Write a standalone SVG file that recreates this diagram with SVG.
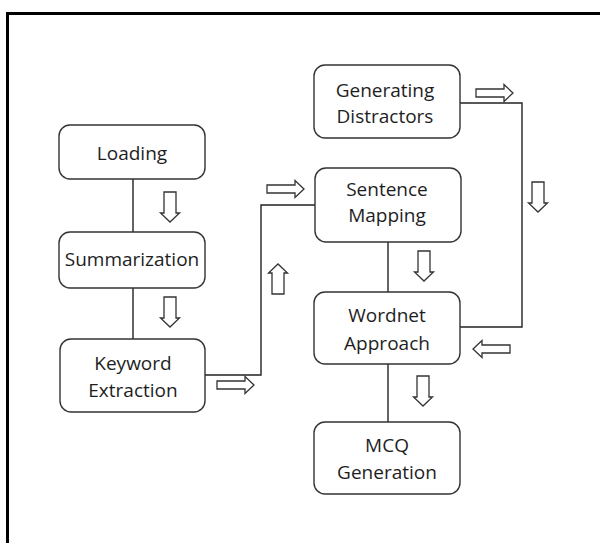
<svg xmlns="http://www.w3.org/2000/svg" xmlns:xlink="http://www.w3.org/1999/xlink" width="600" height="543" viewBox="0 0 600 543">
<style>
.box{fill:#fff;stroke:#333;stroke-width:1.4}
.lbl{font-family:"Open Sans","Noto Sans",sans-serif;font-size:19px;fill:#1e1e1e;text-anchor:middle}
.con{fill:none;stroke:#222;stroke-width:1.4}
.arr{fill:#fff;stroke:#333;stroke-width:1.3;stroke-linejoin:miter}
</style>
<defs>
<path id="adown" d="M-6,0 H6 V21 H9.5 L0,30 L-9.5,21 H-6 Z"/>
<path id="aright" d="M0,-4 H28 V-8.5 L37,0 L28,8.5 V4 H0 Z"/>
</defs>
<rect width="600" height="543" fill="#fff"/>
<path d="M7.5,543 V13.5 H600" fill="none" stroke="#000" stroke-width="3"/>
<g id="connectors">
<line class="con" x1="133" y1="179" x2="133" y2="232"/>
<line class="con" x1="133" y1="288" x2="133" y2="339"/>
<polyline class="con" points="205,375 261,375 261,205 315,205"/>
<line class="con" x1="388" y1="242" x2="388" y2="292"/>
<line class="con" x1="388" y1="364" x2="388" y2="422"/>
<polyline class="con" points="460,103 522,103 522,327 460,327"/>
<use class="arr" href="#adown" transform="translate(170,192)"/>
<use class="arr" href="#adown" transform="translate(170,297)"/>
<use class="arr" href="#aright" transform="translate(217,385)"/>
<use class="arr" href="#adown" transform="translate(278,294) rotate(180)"/>
<use class="arr" href="#aright" transform="translate(267,189)"/>
<use class="arr" href="#aright" transform="translate(476,93)"/>
<use class="arr" href="#adown" transform="translate(538,182)"/>
<use class="arr" href="#adown" transform="translate(424,251)"/>
<use class="arr" href="#aright" transform="translate(510,349) rotate(180)"/>
<use class="arr" href="#adown" transform="translate(423,376)"/>
</g>
<g id="loading"><rect class="box" x="59" y="125" width="146" height="54" rx="11"/><text class="lbl" x="132" y="160">Loading</text></g>
<g id="summarization"><rect class="box" x="59" y="232" width="146" height="56" rx="11"/><text class="lbl" x="132" y="266">Summarization</text></g>
<g id="keyword"><rect class="box" x="60" y="339" width="145" height="73" rx="11"/><text class="lbl" x="133" y="370">Keyword</text><text class="lbl" x="133" y="397">Extraction</text></g>
<g id="distractors"><rect class="box" x="314" y="65" width="146" height="73" rx="11"/><text class="lbl" x="385" y="97">Generating</text><text class="lbl" x="385" y="123">Distractors</text></g>
<g id="sentence"><rect class="box" x="315" y="168" width="146" height="74" rx="11"/><text class="lbl" x="387" y="196">Sentence</text><text class="lbl" x="387" y="222">Mapping</text></g>
<g id="wordnet"><rect class="box" x="314" y="292" width="146" height="72" rx="11"/><text class="lbl" x="387" y="322">Wordnet</text><text class="lbl" x="387" y="350">Approach</text></g>
<g id="mcq"><rect class="box" x="314" y="422" width="146" height="72" rx="11"/><text class="lbl" x="387" y="452">MCQ</text><text class="lbl" x="387" y="479">Generation</text></g>
</svg>
